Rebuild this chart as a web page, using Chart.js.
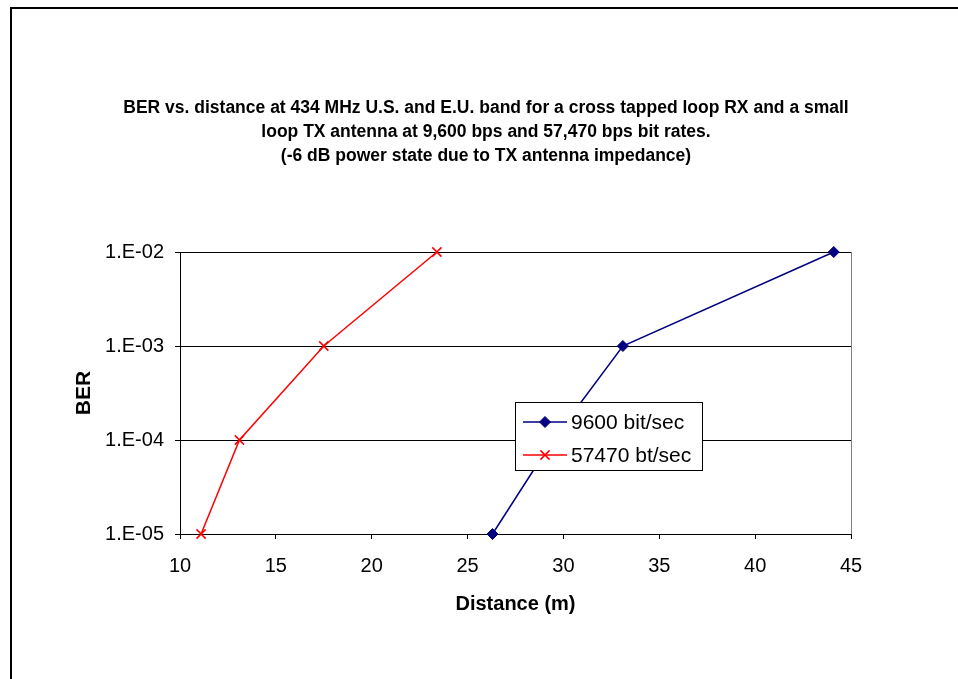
<!DOCTYPE html>
<html>
<head>
<meta charset="utf-8">
<script src="https://cdn.jsdelivr.net/npm/chart.js@4.4.1/dist/chart.umd.min.js"></script>
<style>
  html, body { margin: 0; padding: 0; background: #fff; overflow: hidden; }
  #wrap { position: relative; width: 958px; height: 679px; overflow: hidden; }
  #wrap canvas { position: absolute; left: 0; top: 0; }
  #frame { position: absolute; left: 10px; top: 7px; width: 1000px; height: 1000px;
           border-left: 2px solid #000; border-top: 2px solid #000; pointer-events: none; }
</style>
</head>
<body>
<div id="wrap">
  <canvas id="chart" width="958" height="679"></canvas>
  <div id="frame"></div>
</div>
<script>
// Chart text
const titleLines = [
  'BER vs. distance at 434 MHz U.S. and E.U. band for a cross tapped loop RX and a small',
  'loop TX antenna at 9,600 bps and 57,470 bps bit rates.',
  '(-6 dB power state due to TX antenna impedance)'
];
const xAxisTitle = 'Distance (m)';
const yAxisTitle = 'BER';
const seriesNames = ['9600 bit/sec', '57470 bt/sec'];

// Measured distance (m) and bit error rate for each bit rate
const distance9600 = [26.3, 29.45, 33.1, 44.1];
const ber9600 = [1e-5, 1e-4, 1e-3, 1e-2];
const distance57470 = [11.1, 13.1, 17.5, 23.4];
const ber57470 = [1e-5, 1e-4, 1e-3, 1e-2];

// Axis ticks
const berTicks = [1e-5, 1e-4, 1e-3, 1e-2];
const berTickLabels = ['1.E-05', '1.E-04', '1.E-03', '1.E-02'];
const distanceMin = 10, distanceMax = 45, distanceStep = 5;

const FONT = '"Liberation Sans", Arial, Helvetica, sans-serif';

const toPoints = (xs, ys) => xs.map((x, i) => ({ x: x, y: ys[i] }));

// Multi-line bold heading
const headingPlugin = {
  id: 'heading',
  afterDraw(chart) {
    const ctx = chart.ctx;
    ctx.save();
    ctx.fillStyle = '#000';
    ctx.font = 'bold 17.5px ' + FONT;
    ctx.textAlign = 'center';
    ctx.textBaseline = 'alphabetic';
    const baselines = [113, 137, 161];
    titleLines.forEach((line, i) => ctx.fillText(line, 486, baselines[i]));
    ctx.restore();
  }
};

// Grey right-hand edge of the plot area
const plotEdgePlugin = {
  id: 'plotEdge',
  beforeDatasetsDraw(chart) {
    const { ctx, chartArea } = chart;
    ctx.save();
    ctx.strokeStyle = '#808080';
    ctx.lineWidth = 1;
    const x = Math.round(chartArea.right) + 0.5;
    ctx.beginPath();
    ctx.moveTo(x, chartArea.top);
    ctx.lineTo(x, chartArea.bottom);
    ctx.stroke();
    ctx.restore();
  }
};

// Boxed legend sitting inside the plot area
const boxLegendPlugin = {
  id: 'boxLegend',
  afterDraw(chart) {
    const ctx = chart.ctx;
    const box = { left: 515, top: 402, width: 187, height: 68 };
    const rowY = [422, 455];
    const lineX0 = 523, lineX1 = 567, textX = 571;
    ctx.save();
    ctx.fillStyle = '#fff';
    ctx.fillRect(box.left, box.top, box.width, box.height);
    ctx.strokeStyle = '#000';
    ctx.lineWidth = 1;
    ctx.strokeRect(box.left + 0.5, box.top + 0.5, box.width, box.height);
    chart.data.datasets.forEach((ds, i) => {
      const y = rowY[i];
      ctx.strokeStyle = ds.borderColor;
      ctx.lineWidth = ds.borderWidth;
      ctx.beginPath();
      ctx.moveTo(lineX0, y);
      ctx.lineTo(lineX1, y);
      ctx.stroke();
      ctx.fillStyle = ds.pointBackgroundColor;
      ctx.strokeStyle = ds.pointBorderColor;
      ctx.lineWidth = ds.pointBorderWidth;
      Chart.helpers.drawPoint(ctx, {
        pointStyle: ds.pointStyle, radius: ds.pointRadius, rotation: 0, borderWidth: ds.pointBorderWidth
      }, (lineX0 + lineX1) / 2, y);
      ctx.fillStyle = '#000';
      ctx.font = '21px ' + FONT;
      ctx.textAlign = 'left';
      ctx.textBaseline = 'middle';
      ctx.fillText(ds.label, textX, y + 1);
    });
    ctx.restore();
  }
};

new Chart(document.getElementById('chart'), {
  type: 'line',
  data: {
    datasets: [
      {
        label: seriesNames[0],
        data: toPoints(distance9600, ber9600),
        borderColor: '#000080',
        backgroundColor: '#000080',
        borderWidth: 1.5,
        pointStyle: 'rectRot',
        pointRadius: 5.5,
        pointBackgroundColor: '#000080',
        pointBorderColor: '#000080',
        pointBorderWidth: 1,
        tension: 0,
        clip: false
      },
      {
        label: seriesNames[1],
        data: toPoints(distance57470, ber57470),
        borderColor: '#ff0000',
        backgroundColor: '#ff0000',
        borderWidth: 1.5,
        pointStyle: 'crossRot',
        pointRadius: 6.5,
        pointBackgroundColor: '#ff0000',
        pointBorderColor: '#ff0000',
        pointBorderWidth: 1.5,
        tension: 0,
        clip: false
      }
    ]
  },
  options: {
    responsive: false,
    animation: false,
    devicePixelRatio: 1,
    layout: { padding: { top: 252, right: 107, bottom: 0, left: 0 } },
    plugins: {
      legend: { display: false },
      title: { display: false },
      tooltip: { enabled: false }
    },
    scales: {
      x: {
        type: 'linear',
        min: distanceMin,
        max: distanceMax,
        afterFit(scale) { scale.height = 145; },
        ticks: {
          stepSize: distanceStep,
          color: '#000',
          padding: 15,
          maxRotation: 0,
          font: { family: FONT, size: 20 }
        },
        grid: { drawOnChartArea: false, drawTicks: true, tickLength: 5, color: '#000' },
        border: { display: true, color: '#000', width: 1 },
        title: {
          display: true,
          text: xAxisTitle,
          color: '#000',
          font: { family: FONT, size: 20, weight: 'bold' },
          padding: { top: 0, bottom: 63 }
        }
      },
      y: {
        type: 'logarithmic',
        min: berTicks[0],
        max: berTicks[berTicks.length - 1],
        afterFit(scale) { scale.width = 180; },
        afterBuildTicks(scale) { scale.ticks = berTicks.map(v => ({ value: v })); },
        ticks: {
          color: '#000',
          padding: 11,
          autoSkip: false,
          font: { family: FONT, size: 20 },
          callback: (value, index) => berTickLabels[index]
        },
        grid: { drawOnChartArea: true, drawTicks: true, tickLength: 5, color: '#000' },
        border: { display: true, color: '#000', width: 1 },
        title: {
          display: true,
          text: yAxisTitle,
          color: '#000',
          font: { family: FONT, size: 21, weight: 'bold' },
          padding: { top: 72, bottom: 0 }
        }
      }
    }
  },
  plugins: [headingPlugin, plotEdgePlugin, boxLegendPlugin]
});
</script>
</body>
</html>
